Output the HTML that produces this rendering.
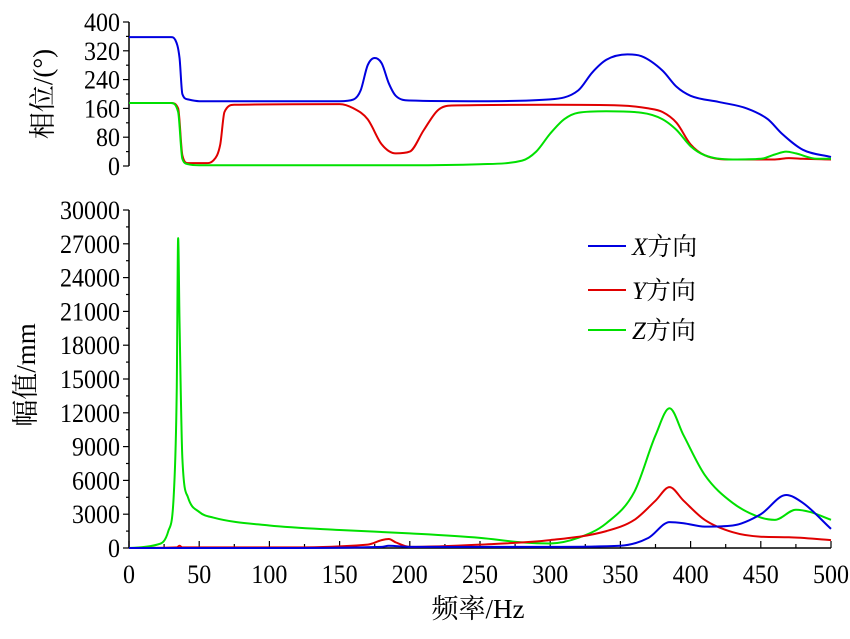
<!DOCTYPE html>
<html><head><meta charset="utf-8"><style>
body{margin:0;background:#fff}
svg text{font-family:"Liberation Serif","Noto Serif CJK SC",serif;fill:#000}
</style></head><body>
<svg id="c" width="850" height="634" xmlns="http://www.w3.org/2000/svg"></svg>
<script>
const freqTicks=[0,50,100,150,200,250,300,350,400,450,500];
const phaseTicks=[0,80,160,240,320,400];
const ampTicks=[0,3000,6000,9000,12000,15000,18000,21000,24000,27000,30000];
const phX_f=[0,30,33,36,38,42,50,150,160,165,170,175,180,185,190,200,250,300,320,330,340,355,365,380,390,400,420,440,455,465,480,500];
const phX_v=[358,358,350,300,200,185,180,180,185,210,280,300,285,230,195,182,180,185,210,260,295,310,305,265,220,195,178,160,130,90,45,25];
const phY_f=[0,30,35,38,42,55,60,65,68,75,150,160,170,180,190,200,210,220,230,300,350,370,380,390,400,410,430,460,470,480,500];
const phY_v=[175,175,160,30,8,8,15,60,150,170,172,160,130,60,35,40,100,155,168,170,168,160,150,120,60,30,18,18,22,20,18];
const phZ_f=[0,30,35,38,42,50,200,250,280,290,300,310,320,340,365,380,390,400,410,430,450,460,468,475,490,500];
const phZ_v=[175,175,150,20,5,2,2,5,15,40,90,130,148,152,148,130,100,55,30,18,20,32,40,35,20,20];
const amX_f=[0,100,180,185,200,300,350,370,385,395,410,430,450,468,480,500];
const amX_v=[0,0,100,200,100,100,200,900,2300,2200,1900,2000,3000,4700,4000,1700];
const amY_f=[0,34,36,38,100,170,180,185,190,200,250,300,340,360,375,385,395,410,430,450,470,500];
const amY_v=[0,50,200,50,50,300,700,800,500,100,300,700,1500,2500,4200,5400,4200,2500,1400,1000,950,700];
const amZ_f=[0,20,28,32,34,35,36,38,42,50,60,100,150,200,250,280,300,320,340,360,375,385,395,410,430,450,460,475,485,500];
const amZ_v=[0,300,1500,5000,14000,27500,20000,8000,4500,3200,2700,2000,1600,1300,900,500,400,900,2200,5000,10000,12400,10000,6500,4000,2700,2500,3400,3200,2500];

const S=document.getElementById('c'),NS='http://www.w3.org/2000/svg';
function el(t,a,txt){const e=document.createElementNS(NS,t);for(const k in a)e.setAttribute(k,a[k]);if(txt!==undefined)e.textContent=txt;S.appendChild(e);return e;}
const X0=129,X1=831;
const fx=f=>X0+(f/500)*(X1-X0);
const py=v=>166-(v/400)*144;
const ay=v=>548-(v/30000)*338;
function path(fs,vs,yf){
const x=fs.map(fx),y=vs.map(yf),n=x.length;const d=[],m=[];
for(let i=0;i<n-1;i++)d.push((y[i+1]-y[i])/(x[i+1]-x[i]));
for(let i=0;i<n;i++){if(i==0)m.push(d[0]);else if(i==n-1)m.push(d[n-2]);else m.push(d[i-1]*d[i]<=0?0:(d[i-1]+d[i])/2);}
for(let i=0;i<n-1;i++){if(d[i]==0){m[i]=0;m[i+1]=0;continue;}const a=m[i]/d[i],b=m[i+1]/d[i],s=a*a+b*b;if(s>9){const t=3/Math.sqrt(s);m[i]=t*a*d[i];m[i+1]=t*b*d[i];}}
let p='M'+x[0]+','+y[0];
for(let i=0;i<n-1;i++){const h=(x[i+1]-x[i])/3;p+=` C${x[i]+h},${y[i]+m[i]*h} ${x[i+1]-h},${y[i+1]-m[i+1]*h} ${x[i+1]},${y[i+1]}`;}
return p;}
function series(fs,vs,yf,col,name){const e=el('path',{d:path(fs,vs,yf),fill:'none',stroke:col,'stroke-width':2,'stroke-linejoin':'round'});

}
let a=el('line',{x1:X0,y1:py(400),x2:X0,y2:py(0),stroke:'#000','stroke-width':1.5});


for(let v=0;v<=400;v+=40){el('line',{x1:X0-(v%80?3:6),y1:py(v),x2:X0,y2:py(v),stroke:'#000','stroke-width':1.2});}
phaseTicks.forEach(v=>{const t=el('text',{x:120,y:py(v)+9,'text-anchor':'end','font-size':26,textLength:String(v).length*12,lengthAdjust:'spacingAndGlyphs'},v);

});
let t1=el('text',{transform:'translate(52,94) rotate(-90)','text-anchor':'middle','font-size':27},'相位/(°)');


series(phX_f,phX_v,py,'#0000e0','phase-x-line');
series(phY_f,phY_v,py,'#e00000','phase-y-line');
series(phZ_f,phZ_v,py,'#00e000','phase-z-line');
let b=el('line',{x1:X0,y1:ay(30000),x2:X0,y2:548,stroke:'#000','stroke-width':1.5});


let bx=el('line',{x1:X0,y1:548,x2:X1,y2:548,stroke:'#000','stroke-width':1.5});


for(let v=0;v<=30000;v+=1500){el('line',{x1:X0-(v%3000?3:6),y1:ay(v),x2:X0,y2:ay(v),stroke:'#000','stroke-width':1.2});}
for(let f=0;f<=500;f+=25){el('line',{x1:fx(f),y1:548,x2:fx(f),y2:548-(f%50?4:7),stroke:'#000','stroke-width':1.2});}
ampTicks.forEach(v=>{const t=el('text',{x:120,y:ay(v)+9,'text-anchor':'end','font-size':26,textLength:String(v).length*12,lengthAdjust:'spacingAndGlyphs'},v);

});
freqTicks.forEach(f=>{const t=el('text',{x:fx(f),y:583,'text-anchor':'middle','font-size':26,textLength:String(f).length*12,lengthAdjust:'spacingAndGlyphs'},f);

});
let t2=el('text',{transform:'translate(35,375) rotate(-90)','text-anchor':'middle','font-size':27},'幅值/mm');


let t3=el('text',{x:478,y:618,'text-anchor':'middle','font-size':27},'频率/Hz');


series(amZ_f,amZ_v,ay,'#00e000','amplitude-z-line');
series(amY_f,amY_v,ay,'#e00000','amplitude-y-line');
series(amX_f,amX_v,ay,'#0000e0','amplitude-x-line');
[['X','#0000e0',246],['Y','#e00000',290],['Z','#00e000',330]].forEach(([n,c,y])=>{
const l=el('line',{x1:588,y1:y,x2:626,y2:y,stroke:c,'stroke-width':2});


const t=el('text',{x:632,y:y+9,'font-size':25});
t.innerHTML='<tspan font-style="italic">'+n+'</tspan>方向';

});
</script>
</body></html>
